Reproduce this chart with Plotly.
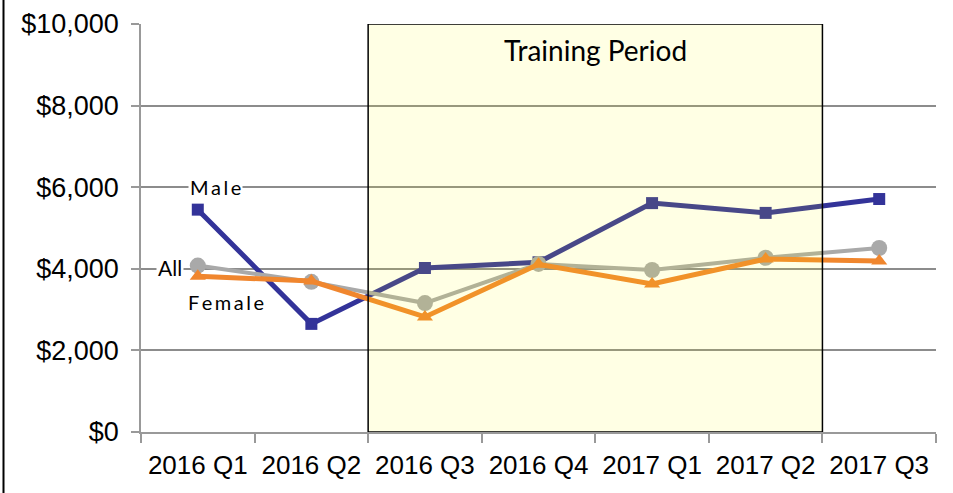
import plotly.graph_objects as go

quarters = ["2016 Q1", "2016 Q2", "2016 Q3", "2016 Q4", "2017 Q1", "2017 Q2", "2017 Q3"]
male = [5450, 2650, 4020, 4160, 5610, 5370, 5710]
all_ = [4080, 3680, 3160, 4120, 3970, 4270, 4510]
female = [3820, 3700, 2820, 4110, 3630, 4240, 4190]

y_ticks = [0, 2000, 4000, 6000, 8000, 10000]
y_labels = ["$0", "$2,000", "$4,000", "$6,000", "$8,000", "$10,000"]

training_start, training_end = "2016 Q3", "2017 Q2"

W, H = 953, 493
ml, mr, mt, mb = 141, 17, 24, 61

fig = go.Figure()
fig.add_trace(go.Scatter(x=quarters, y=male, mode="lines+markers", name="Male",
                         line=dict(color="#333399", width=5),
                         marker=dict(symbol="square", size=12, color="#333399")))
fig.add_trace(go.Scatter(x=quarters, y=all_, mode="lines+markers", name="All",
                         line=dict(color="#A9A9A9", width=4),
                         marker=dict(symbol="circle", size=16, color="#A9A9A9")))
fig.add_trace(go.Scatter(x=quarters, y=female, mode="lines+markers", name="Female",
                         line=dict(color="#F0862E", width=5),
                         marker=dict(symbol="triangle-up", size=14, color="#F0862E")))

i0 = quarters.index(training_start) - 0.5
i1 = quarters.index(training_end) + 0.5
fig.add_shape(type="rect", xref="x", yref="y", x0=i0, x1=i1, y0=0, y1=10000,
              fillcolor="rgba(255,255,0,0.105)", line=dict(color="black", width=1.5),
              layer="above")
fig.add_annotation(x=(i0 + i1) / 2, y=9360, xref="x", yref="y", text="Training Period",
                   showarrow=False, yanchor="middle",
                   font=dict(family="Lato", size=28, color="black"))

pw = W - ml - mr
def px(p):
    return (p - ml) / pw

ts = "\u2009"
fig.add_annotation(x=px(215.5), y=6000, xref="paper", yref="y", text=ts.join("Male"),
                   showarrow=False, bgcolor="white", borderpad=1, xanchor="center",
                   font=dict(family="Lato", size=20, color="black"))
fig.add_annotation(x=px(170), y=4040, xref="paper", yref="y", text="All",
                   showarrow=False, bgcolor="white", borderpad=1, xanchor="center",
                   font=dict(family="Lato", size=21, color="black"))
fig.add_annotation(x=px(225.5), y=3190, xref="paper", yref="y", text=ts.join("Female"),
                   showarrow=False, borderpad=1, xanchor="center",
                   font=dict(family="Lato", size=20, color="black"))

# left border line of the original picture
fig.add_shape(type="line", xref="paper", yref="paper", x0=px(3.5), x1=px(3.5),
              y0=-mb / (H - mt - mb), y1=1 + mt / (H - mt - mb),
              line=dict(color="black", width=2))

fig.update_layout(
    width=W, height=H,
    margin=dict(l=ml, r=mr, t=mt, b=mb, autoexpand=False),
    paper_bgcolor="white", plot_bgcolor="white",
    showlegend=False,
    font=dict(family="Liberation Sans, Arial", size=24, color="black"),
)
fig.update_xaxes(type="category", range=[-0.5, 6.5], tickson="boundaries",
                 ticks="outside", ticklen=9, tickcolor="#999999", tickwidth=1.5,
                 showline=True, linecolor="#999999", linewidth=1.5, automargin=False,
                 showgrid=False, tickfont=dict(size=26), ticklabelstandoff=9)
fig.update_yaxes(range=[0, 10000], tickvals=y_ticks, ticktext=y_labels,
                 ticks="outside", ticklen=8, tickcolor="#999999", tickwidth=1.5,
                 showline=True, linecolor="#999999", linewidth=1.5, automargin=False,
                 showgrid=True, gridcolor="#8C8C8C", gridwidth=1.5,
                 zeroline=False, tickfont=dict(size=27), ticklabelstandoff=7)

fig.write_html("out.html", config={"displayModeBar": False},
               post_script="document.body.style.margin='0';document.body.style.padding='0';")
